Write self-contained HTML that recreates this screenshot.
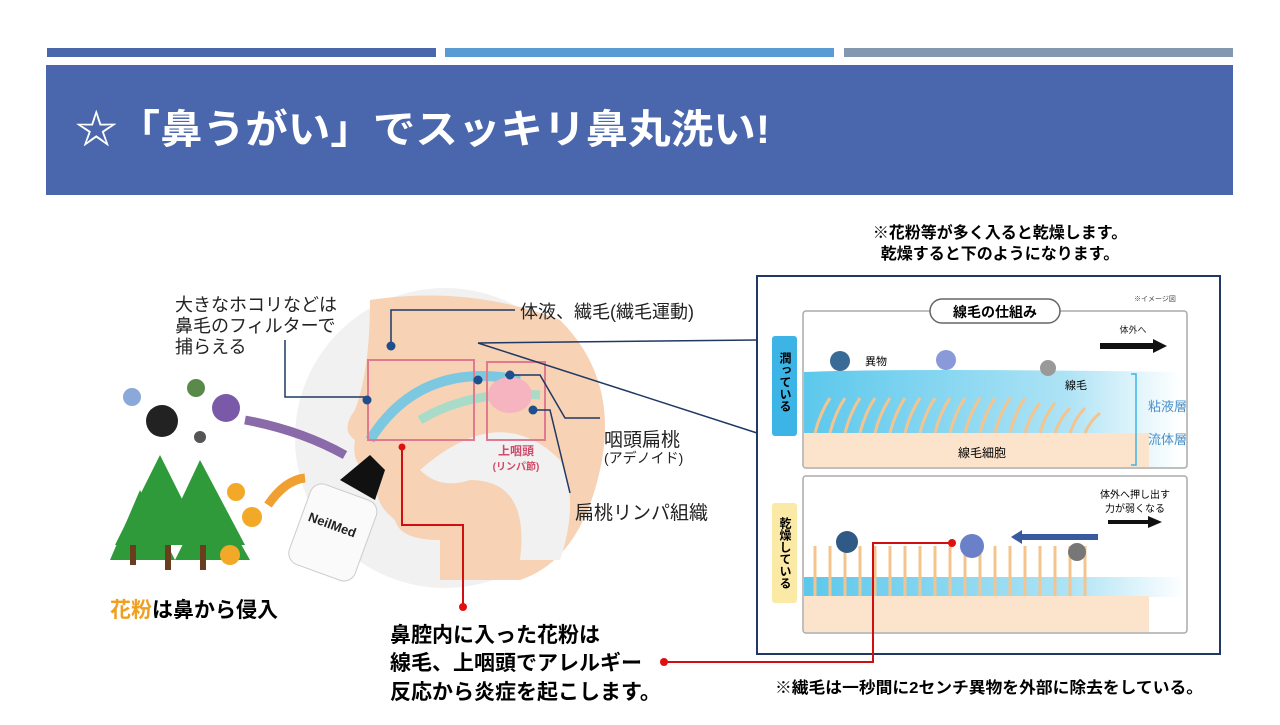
<!DOCTYPE html>
<html><head><meta charset="utf-8"><style>
body{margin:0;width:1280px;height:720px;background:#fff;overflow:hidden;font-family:"Liberation Sans","Noto Sans CJK JP",sans-serif}
</style></head><body>
<svg width="1280" height="720" viewBox="0 0 1280 720" xmlns="http://www.w3.org/2000/svg" font-family="Liberation Sans, Noto Sans CJK JP, sans-serif">
<rect x="47" y="48" width="389" height="9" fill="#4a66ac"/>
<rect x="445" y="48" width="389" height="9" fill="#5b9bd5"/>
<rect x="844" y="48" width="389" height="9" fill="#8497b0"/>
<rect x="46" y="65" width="1187" height="130" fill="#4a66ac"/>
<text x="75" y="143" fill="#fff" font-size="40" font-weight="bold" textLength="695" lengthAdjust="spacingAndGlyphs">☆「鼻うがい」でスッキリ鼻丸洗い!</text>

<text x="1000" y="238" font-size="16" font-weight="bold" text-anchor="middle">※花粉等が多く入ると乾燥します。</text>
<text x="1000" y="259" font-size="16" font-weight="bold" text-anchor="middle">乾燥すると下のようになります。</text>

<!-- head illustration -->
<circle cx="445" cy="438" r="150" fill="#f1f1f1"/>
<path d="M370 300 Q470 285 560 320 Q620 380 600 470 Q580 560 520 580 L440 580 L440 540 Q400 540 395 520 Q370 500 380 480 Q350 470 355 440 Q340 430 355 410 Q370 370 370 300Z" fill="#f7d2b4"/>
<path d="M420 470 Q500 400 560 460 Q580 500 560 560 L520 560 Q530 480 470 480 Q440 490 420 470Z" fill="#f1f1f1"/>
<path d="M370 440 Q420 360 520 380" stroke="#7cc8e0" stroke-width="10" fill="none"/>
<path d="M420 420 Q470 390 540 395" stroke="#a8dcc8" stroke-width="9" fill="none"/>
<ellipse cx="510" cy="395" rx="22" ry="18" fill="#f6b3c0"/>
<rect x="368" y="360" width="106" height="80" fill="none" stroke="#e07a90" stroke-width="2"/>
<rect x="487" y="362" width="58" height="78" fill="none" stroke="#e07a90" stroke-width="2"/>
<text x="516" y="455" font-size="12" font-weight="bold" fill="#d04a6a" text-anchor="middle">上咽頭</text>
<text x="516" y="470" font-size="10" font-weight="bold" fill="#d04a6a" text-anchor="middle">(リンパ節)</text>
<!-- bottle -->
<path d="M340 480 L370 455 L385 470 L375 500 Z" fill="#111"/>
<rect x="298" y="490" width="70" height="85" rx="12" fill="#fafafa" stroke="#ccc" transform="rotate(20 333 532)"/>
<text x="305" y="530" font-size="13" font-weight="bold" fill="#222" transform="rotate(20 333 532)">NeilMed</text>
<!-- trees & germs -->
<g fill="#2f9a3a"><polygon points="160,455 115,545 205,545"/><polygon points="200,460 160,545 245,545"/><polygon points="140,490 110,560 175,560"/><polygon points="210,490 175,560 250,560"/></g>
<g fill="#6b3d1f"><rect x="130" y="545" width="6" height="20"/><rect x="165" y="545" width="6" height="25"/><rect x="200" y="545" width="6" height="25"/></g>
<g fill="#f2a928"><circle cx="236" cy="492" r="9"/><circle cx="252" cy="517" r="10"/><circle cx="230" cy="555" r="10"/></g>
<circle cx="162" cy="421" r="16" fill="#222"/><circle cx="226" cy="408" r="14" fill="#7a5aa8"/><circle cx="196" cy="388" r="9" fill="#5a8a4a"/><circle cx="132" cy="397" r="9" fill="#8aa8d8"/><circle cx="200" cy="437" r="6" fill="#555"/>
<path d="M245 420 Q300 430 345 455" stroke="#8a6aa8" stroke-width="9" fill="none"/>
<path d="M268 505 Q285 480 305 478" stroke="#f0a030" stroke-width="9" fill="none"/>
<!-- callouts -->
<g stroke="#1f3864" stroke-width="1.5" fill="none">
<polyline points="391,345 391,310 515,310"/>
<polyline points="365,397 285,397 285,340"/>
<polyline points="505,375 540,375 565,418 600,418"/>
<polyline points="533,410 550,410 570,493"/>
<line x1="478" y1="343" x2="757" y2="340"/>
<line x1="478" y1="343" x2="757" y2="433"/>
</g>
<g fill="#1f4e8c"><circle cx="391" cy="346" r="4.5"/><circle cx="367" cy="400" r="4.5"/><circle cx="478" cy="380" r="4.5"/><circle cx="510" cy="375" r="4.5"/><circle cx="533" cy="410" r="4.5"/></g>
<g font-size="18" fill="#222">
<text x="175" y="311">大きなホコリなどは</text>
<text x="175" y="332">鼻毛のフィルターで</text>
<text x="175" y="353">捕らえる</text>
<text x="520" y="318">体液、繊毛(繊毛運動)</text>
<text x="604" y="446" font-size="19">咽頭扁桃</text>
<text x="604" y="463" font-size="14">(アデノイド)</text>
<text x="575" y="519" font-size="19">扁桃リンパ組織</text>
</g>
<text x="110" y="617" font-size="21" font-weight="bold"><tspan fill="#f0a020">花粉</tspan>は鼻から侵入</text>

<!-- right box -->
<rect x="757" y="276" width="463" height="378" fill="#fff" stroke="#1f3864" stroke-width="2"/>
<rect x="803" y="311" width="384" height="157" fill="#fff" stroke="#aaa" stroke-width="1.5" rx="3"/>
<rect x="803" y="476" width="384" height="157" fill="#fff" stroke="#aaa" stroke-width="1.5" rx="3"/>
<rect x="930" y="299" width="130" height="24" rx="12" fill="#fff" stroke="#666" stroke-width="1.5"/>
<text x="995" y="317" font-size="14" font-weight="bold" text-anchor="middle">線毛の仕組み</text>
<text x="1155" y="301" font-size="7" fill="#444" text-anchor="middle">※イメージ図</text>
<rect x="772" y="336" width="25" height="100" rx="3" fill="#3cb4e6"/>
<rect x="772" y="503" width="25" height="100" rx="3" fill="#fbe9a6"/>
<text x="785" y="352" font-size="12" font-weight="bold" writing-mode="tb">潤っている</text>
<text x="785" y="517" font-size="12" font-weight="bold" writing-mode="tb">乾燥している</text>
<defs><linearGradient id="w" x1="0" x2="1"><stop offset="0" stop-color="#5cc8ec"/><stop offset="0.7" stop-color="#aee3f5"/><stop offset="1" stop-color="#fff"/></linearGradient></defs>
<path d="M804 372 Q900 368 1180 372 L1180 467 L804 467Z" fill="url(#w)"/>
<rect x="804" y="433" width="345" height="34" fill="#fbe3cc"/>
<g stroke="#f4c48e" stroke-width="3" fill="none">
<path d="M815 433 q5-20 15-35 M830 433 q5-20 15-35 M845 433 q5-20 15-35 M860 433 q5-20 15-35 M875 433 q5-20 15-35 M890 433 q5-20 15-35 M905 433 q5-20 15-35 M920 433 q5-20 15-35 M935 433 q5-20 15-35 M950 433 q5-20 15-35 M965 433 q5-20 15-35 M980 433 q5-20 15-35 M995 433 q5-20 15-35 M1010 433 q5-20 15-35 M1025 433 q5-18 15-30 M1040 433 q5-18 15-30 M1055 433 q5-15 15-25 M1070 433 q5-15 15-25 M1085 433 q5-12 15-20"/>
</g>
<text x="958" y="457" font-size="12">線毛細胞</text>
<g fill="#3a6a96"><circle cx="840" cy="361" r="10"/></g><circle cx="946" cy="360" r="10" fill="#8a9ad8"/><circle cx="1048" cy="368" r="8" fill="#999"/>
<text x="865" y="365" font-size="11">異物</text>
<text x="1065" y="389" font-size="11">線毛</text>
<text x="1133" y="333" font-size="9" fill="#222" text-anchor="middle">体外へ</text>
<polygon points="1100,343 1153,343 1153,339 1167,346 1153,353 1153,349 1100,349" fill="#111"/>
<polyline points="1131,374 1136,374 1136,465 1131,465" stroke="#3cb4e6" fill="none" stroke-width="1.5"/>
<text x="1148" y="411" font-size="13" fill="#4a90c8">粘液層</text>
<text x="1148" y="444" font-size="13" fill="#4a90c8">流体層</text>
<rect x="804" y="577" width="380" height="20" fill="url(#w)"/>
<rect x="804" y="596" width="345" height="36" fill="#fbe3cc"/>
<g stroke="#f4c48e" stroke-width="3"><path d="M815 596v-50M830 596v-50M845 596v-50M860 596v-50M875 596v-50M890 596v-50M905 596v-50M920 596v-50M935 596v-50M950 596v-50M965 596v-50M980 596v-50M995 596v-50M1010 596v-50M1025 596v-50M1040 596v-50M1055 596v-50M1070 596v-50M1085 596v-50"/></g>
<circle cx="847" cy="542" r="11" fill="#2f5a86"/><circle cx="972" cy="546" r="12" fill="#6a80c8"/><circle cx="1077" cy="552" r="9" fill="#777"/>
<polygon points="1098,534 1022,534 1022,530 1011,537 1022,544 1022,540 1098,540" fill="#3a5aa0"/>
<text x="1135" y="498" font-size="10" text-anchor="middle">体外へ押し出す</text>
<text x="1135" y="512" font-size="10" text-anchor="middle">力が弱くなる</text>
<polygon points="1108,520 1148,520 1148,516 1162,522 1148,528 1148,524 1108,524" fill="#111"/>

<!-- red connectors -->
<g stroke="#d01010" stroke-width="2" fill="none">
<polyline points="402,447 402,525 463,525 463,607"/>
<polyline points="664,662 873,662 873,543 952,543"/>
</g>
<g fill="#e01010"><circle cx="402" cy="447" r="3.5"/><circle cx="463" cy="607" r="4"/><circle cx="664" cy="662" r="4"/><circle cx="952" cy="543" r="4"/></g>
<g font-size="21" font-weight="bold">
<text x="390" y="642">鼻腔内に入った花粉は</text>
<text x="390" y="670">線毛、上咽頭でアレルギー</text>
<text x="390" y="699">反応から炎症を起こします。</text>
</g>
<text x="775" y="693" font-size="16" font-weight="bold" textLength="428" lengthAdjust="spacingAndGlyphs">※繊毛は一秒間に2センチ異物を外部に除去をしている。</text>
</svg>
</body></html>
